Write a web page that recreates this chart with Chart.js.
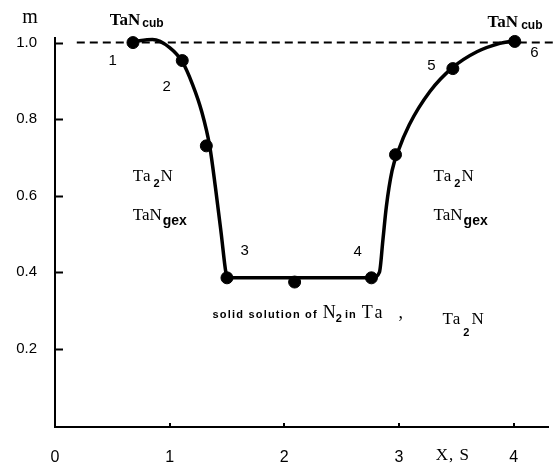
<!DOCTYPE html>
<html>
<head>
<meta charset="utf-8">
<script src="https://cdn.jsdelivr.net/npm/chart.js@4/dist/chart.umd.min.js"></script>
<style>
  html, body { margin: 0; padding: 0; background: #fff; }
  #wrap { width: 555px; height: 467px; position: relative; }
</style>
</head>
<body>
<div id="wrap"><canvas id="c"></canvas></div>
<script>
// Measured points (X, S  vs  m)
const pointX = [0.68, 1.11, 1.32, 1.50, 2.09, 2.76, 2.97, 3.47, 4.01];
const pointY = [1.000, 0.953, 0.730, 0.385, 0.374, 0.385, 0.707, 0.932, 1.003];

// Hand-drawn trend curve traced through the measurements
const curveX = [0.68, 0.85, 1.00, 1.11, 1.20, 1.28, 1.35, 1.40, 1.45, 1.49, 1.505,
                2.77, 2.83, 2.86, 2.89, 2.94, 2.99, 3.09, 3.27, 3.47, 3.68, 3.88, 4.01];
const curveY = [1.003, 1.008, 0.987, 0.950, 0.890, 0.819, 0.728, 0.620, 0.500, 0.400, 0.385,
                0.385, 0.400, 0.484, 0.571, 0.665, 0.714, 0.785, 0.872, 0.935, 0.976, 0.998, 1.005];

// Reference level m = 1
const refX = [0.19, 4.35];
const refY = [1.0, 1.0];

// Axis ticks
const xTicks = [0, 1, 2, 3, 4];
const yTicks = [0.2, 0.4, 0.6, 0.8, 1.0];

const zip = (xs, ys) => xs.map((x, i) => ({ x, y: ys[i] }));

const SERIF = '"Liberation Serif", "DejaVu Serif", serif';
const SANS = '"Liberation Sans", Arial, sans-serif';

// Phase labels: anchor in data units, text drawn as runs (main text + subscripts)
const labels = [
  { x: 0.477, y: 1.047, runs: [{ t: 'TaN', f: 'bold 17px ' + SERIF }, { t: 'cub', f: 'bold 12px ' + SANS, dy: 2, gap: 2 }] },
  { x: 3.773, y: 1.042, runs: [{ t: 'TaN', f: 'bold 17px ' + SERIF }, { t: 'cub', f: 'bold 12px ' + SANS, dy: 2, gap: 3 }] },
  { x: 0.678, y: 0.637, runs: [{ t: 'Ta', f: '17px ' + SERIF, ls: 1 }, { t: '2', f: 'bold 11px ' + SANS, dy: 6, gap: 2 }, { t: 'N', f: '17px ' + SERIF, gap: 1 }] },
  { x: 0.678, y: 0.537, runs: [{ t: 'TaN', f: '17px ' + SERIF }, { t: 'gex', f: 'bold 14px ' + SANS, dy: 5, gap: 1 }] },
  { x: 3.302, y: 0.637, runs: [{ t: 'Ta', f: '17px ' + SERIF, ls: 1 }, { t: '2', f: 'bold 11px ' + SANS, dy: 6, gap: 2 }, { t: 'N', f: '17px ' + SERIF, gap: 1 }] },
  { x: 3.302, y: 0.537, runs: [{ t: 'TaN', f: '17px ' + SERIF }, { t: 'gex', f: 'bold 14px ' + SANS, dy: 5, gap: 1 }] },
  { x: 1.374, y: 0.280, runs: [
      { t: 'solid solution of', f: 'bold 11px ' + SANS, ls: 1.2 },
      { t: 'N', f: '18px ' + SERIF, gap: 5 },
      { t: '2', f: 'bold 11px ' + SANS, dy: 4, gap: 0 },
      { t: 'in', f: 'bold 11px ' + SANS, gap: 3, ls: 1 },
      { t: 'Ta', f: '18px ' + SERIF, gap: 5, ls: 3 },
      { t: ',', f: '18px ' + SERIF, gap: 13 } ] },
  { x: 3.38, y: 0.265, runs: [{ t: 'Ta', f: '17px ' + SERIF, ls: 1 }, { t: '2', f: 'bold 11px ' + SANS, dy: 12, gap: 2 }, { t: 'N', f: '17px ' + SERIF, gap: 2 }] }
];

// Point numbers
const numbers = [
  { t: '1', x: 0.504, y: 0.953 }, { t: '2', x: 0.973, y: 0.885 },
  { t: '3', x: 1.654, y: 0.456 }, { t: '4', x: 2.639, y: 0.454 },
  { t: '5', x: 3.284, y: 0.940 }, { t: '6', x: 4.182, y: 0.974 }
];

const annotate = {
  id: 'annotate',
  afterDraw(chart) {
    const { ctx, chartArea: a, scales: { x, y } } = chart;
    ctx.save();
    ctx.strokeStyle = '#000';
    ctx.lineWidth = 2;
    // inward tick marks
    ctx.beginPath();
    yTicks.forEach(v => {
      const py = Math.round(y.getPixelForValue(v)) + 0.5;
      ctx.moveTo(a.left, py); ctx.lineTo(a.left + 8, py);
    });
    xTicks.slice(1).forEach(v => {
      const px = Math.round(x.getPixelForValue(v));
      ctx.moveTo(px, a.bottom); ctx.lineTo(px, a.bottom - 4);
    });
    ctx.stroke();

    ctx.fillStyle = '#000';
    ctx.textBaseline = 'alphabetic';
    ctx.textAlign = 'left';
    labels.forEach(l => {
      let px = x.getPixelForValue(l.x);
      const py = y.getPixelForValue(l.y);
      l.runs.forEach(r => {
        ctx.font = r.f;
        ctx.letterSpacing = (r.ls || 0) + 'px';
        px += r.gap || 0;
        ctx.fillText(r.t, px, py + (r.dy || 0));
        px += ctx.measureText(r.t).width;
      });
      ctx.letterSpacing = '0px';
    });

    ctx.font = '15px ' + SANS;
    ctx.textAlign = 'center';
    ctx.textBaseline = 'middle';
    numbers.forEach(n => ctx.fillText(n.t, x.getPixelForValue(n.x), y.getPixelForValue(n.y)));

    // axis titles
    ctx.textBaseline = 'alphabetic';
    ctx.font = '20px ' + SERIF;
    ctx.fillText('m', a.left - 25, a.top - 15);
    ctx.font = '17px ' + SERIF;
    ctx.letterSpacing = '1px';
    ctx.fillText('X, S', x.getPixelForValue(3.47), a.bottom + 33);
    ctx.restore();
  }
};

new Chart(document.getElementById('c'), {
  type: 'scatter',
  data: {
    datasets: [
      { type: 'line', data: zip(refX, refY), borderColor: '#000', borderWidth: 2,
        borderDash: [8, 5], pointRadius: 0, clip: false, fill: false },
      { type: 'line', data: zip(curveX, curveY), borderColor: '#000', borderWidth: 3.5,
        pointRadius: 0, cubicInterpolationMode: 'monotone', clip: false, fill: false },
      { data: zip(pointX, pointY), backgroundColor: '#000', borderColor: '#000',
        pointRadius: 6, pointHoverRadius: 6, clip: false }
    ]
  },
  options: {
    responsive: true,
    maintainAspectRatio: false,
    animation: false,
    events: [],
    layout: { padding: { top: 38, right: 5, left: 0, bottom: 0 } },
    plugins: { legend: { display: false }, tooltip: { enabled: false } },
    scales: {
      x: {
        type: 'linear', min: 0, max: 4.3,
        afterBuildTicks: s => { s.ticks = xTicks.map(v => ({ value: v })); },
        afterFit: s => { s.height = 40; },
        grid: { display: true, drawOnChartArea: false, drawTicks: false },
        border: { display: true, color: '#000', width: 2 },
        ticks: { color: '#000', padding: 21, maxRotation: 0, font: { family: SANS, size: 16 },
                 callback: v => String(v) }
      },
      y: {
        type: 'linear', min: -0.005, max: 1.012,
        afterBuildTicks: s => { s.ticks = yTicks.map(v => ({ value: v })); },
        afterFit: s => { s.width = 55; },
        grid: { display: true, drawOnChartArea: false, drawTicks: false },
        border: { display: true, color: '#000', width: 2 },
        ticks: { color: '#000', padding: 18, font: { family: SANS, size: 15 },
                 callback: v => Number(v).toFixed(1) }
      }
    }
  },
  plugins: [annotate]
});
</script>
</body>
</html>
